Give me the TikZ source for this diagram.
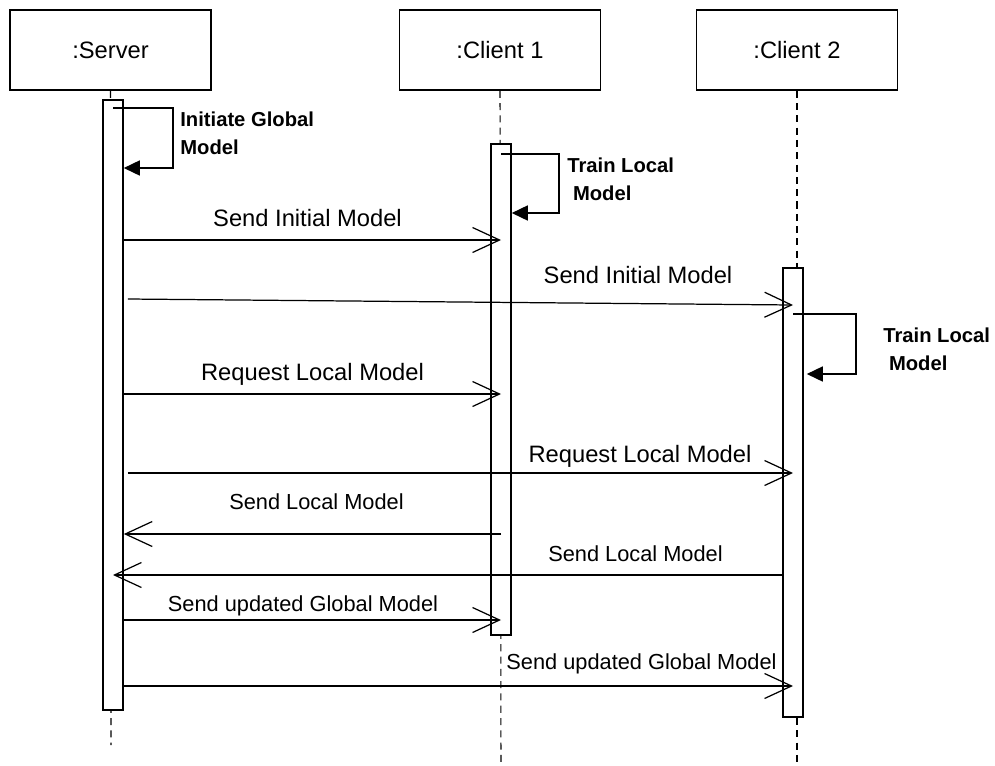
\documentclass[tikz,border=0pt]{standalone}
\usepackage{fontspec}
\setmainfont{Liberation Sans}
\usetikzlibrary{arrows.meta}

\begin{document}
\begin{tikzpicture}[x=0.02cm,y=-0.02cm,
	headbox/.style={draw, line width=0.9pt, minimum width=4.02cm, minimum height=1.6cm, inner sep=0pt, font=\fontsize{13.5}{16}\selectfont},
	actbar/.style={draw, line width=0.9pt, fill=white, minimum width=0.4cm, inner sep=0pt},
	lifeline/.style={line width=0.6pt, dash pattern=on 4pt off 3pt},
	msg/.style={line width=0.7pt, -{Straight Barb[length=0.54cm, width=0.5cm]}},
	selfloop/.style={line width=0.9pt, -{Triangle[length=0.32cm, width=0.3cm]}},
	msglabel/.style={anchor=base, inner sep=0pt, font=\fontsize{13.5}{16}\selectfont},
	smalllabel/.style={msglabel, font=\fontsize{12.4}{15}\selectfont},
	notelabel/.style={anchor=north west, inner sep=0pt, align=left, font=\bfseries\fontsize{11.5}{15.9}\selectfont}]
	\useasboundingbox (0,0) rectangle (995,765);
	% heads and lifelines
	\node [headbox] (srv) at (110.5,50) {:Server};
	\node [headbox] (cl1) at (500,50) {:Client 1};
	\node [headbox] (cl2) at (797,50) {:Client 2};
	\coordinate (srvend) at (111,745);
	\coordinate (cl1end) at (501,765);
	\coordinate (cl2end) at (797,765);
	\draw [lifeline] (srv.south) -- (srvend);
	\draw [lifeline] (cl1.south) -- (cl1end);
	\draw [lifeline] (cl2.south) -- (cl2end);
	% activation bars
	\node [actbar, minimum height=12.2cm] (srvbar) at (113,405) {};
	\node [actbar, minimum height=9.82cm] (cl1bar) at (501,389.5) {};
	\node [actbar, minimum height=8.99cm] (cl2bar) at (793,492.5) {};
	% self calls
	\coordinate (s1in) at (173,108);
	\coordinate (s1out) at (173,168);
	\draw [selfloop] (srvbar.center |- s1in) -- (s1in) -- (s1out) -- (srvbar.east |- s1out);
	\node [notelabel] (initlbl) at (180,112) {Initiate Global\\Model};
	\coordinate (s2in) at (559,154);
	\coordinate (s2out) at (559,213);
	\draw [selfloop] (cl1bar.center |- s2in) -- (s2in) -- (s2out) -- (cl1bar.east |- s2out);
	\node [notelabel] (train1lbl) at (567,158) {Train Local\\\hspace*{0.28em}Model};
	\coordinate (s3in) at (856,314);
	\coordinate (s3out) at (856,374);
	\draw [selfloop] (cl2bar.center |- s3in) -- (s3in) -- (s3out) -- ([xshift=0.06cm]cl2bar.east |- s3out);
	\node [notelabel] (train2lbl) at (883,328) {Train Local\\\hspace*{0.28em}Model};
	% messages
	\coordinate (m1) at (0,240);
	\coordinate (m2a) at (0,299);
	\coordinate (m2b) at (0,305);
	\coordinate (m3) at (0,394);
	\coordinate (m4) at (0,473);
	\coordinate (m5) at (0,534);
	\coordinate (m6) at (0,575);
	\coordinate (m7) at (0,620);
	\coordinate (m8) at (0,686);
	\draw [msg] (srvbar.east |- m1) -- (cl1bar.center |- m1);
	\node [msglabel] (m1lbl) at (307.5,226) {Send Initial Model};
	\draw [msg] ([xshift=0.08cm]srvbar.east |- m2a) -- (cl2bar.center |- m2b);
	\node [msglabel] (m2lbl) at (638,283) {Send Initial Model};
	\draw [msg] (srvbar.east |- m3) -- (cl1bar.center |- m3);
	\node [msglabel] (m3lbl) at (312.5,380) {Request Local Model};
	\draw [msg] ([xshift=0.08cm]srvbar.east |- m4) -- (cl2bar.center |- m4);
	\node [msglabel] (m4lbl) at (640,462) {Request Local Model};
	\draw [msg] (cl1bar.center |- m5) -- (srvbar.east |- m5);
	\node [smalllabel] (m5lbl) at (316.5,509) {Send Local Model};
	\draw [msg] (cl2bar.west |- m6) -- (srvbar.center |- m6);
	\node [smalllabel] (m6lbl) at (635.5,561) {Send Local Model};
	\draw [msg] (srvbar.east |- m7) -- (cl1bar.center |- m7);
	\node [smalllabel] (m7lbl) at (303,611) {Send updated Global Model};
	\draw [msg] (srvbar.east |- m8) -- (cl2bar.center |- m8);
	\node [smalllabel] (m8lbl) at (641.5,669) {Send updated Global Model};
\end{tikzpicture}
\end{document}
